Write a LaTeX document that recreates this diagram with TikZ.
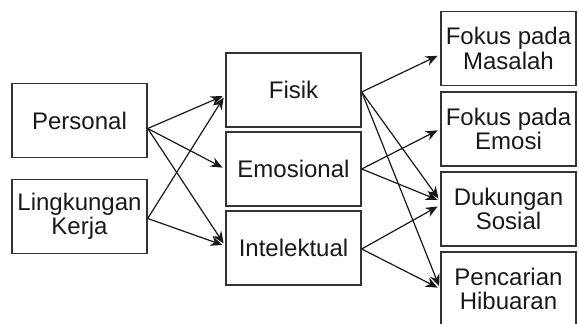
\documentclass[tikz,border=0pt]{standalone}
\usepackage{fontspec}
\setmainfont{Liberation Sans}
\usetikzlibrary{arrows.meta, calc}

\begin{document}
\begin{tikzpicture}[x=0.5pt, y=-0.5pt,
  kotak/.style={draw=black!80, line width=0.7pt, minimum width=67.5pt, minimum height=37pt,
    align=center, inner sep=0pt, text=black!90, font=\fontsize{12}{12.3}\selectfont},
  panah/.style={-{Stealth[length=6pt, width=5pt]}, line width=0.6pt, black!90, shorten >=1.5pt}]
  \useasboundingbox (0,0) rectangle (579,324);

  % Sumber stres
  \node[kotak] (personal) at (79.5, 120.5) {Personal};
  \node[kotak] (kerja) at (79.5, 216.5) {Lingkungan\\Kerja};

  % Dimensi
  \node[kotak] (fisik) at (293.5, 90) {Fisik};
  \node[kotak] (emosional) at (293.5, 169) {Emosional};
  \node[kotak] (intelektual) at (293.5, 248) {Intelektual};

  % Strategi coping
  \node[kotak] (masalah) at (508.5, 48.5) {Fokus pada\\Masalah};
  \node[kotak] (emosi) at (508.5, 129) {Fokus pada\\Emosi};
  \node[kotak] (sosial) at (508.5, 209) {Dukungan\\Sosial};
  \node[kotak] (hiburan) at (508.5, 289) {Pencarian\\Hibuaran};

  % Panah kiri
  \draw[panah] ($(personal.east)+(0,8)$) -- ($(fisik.west)+(0,5)$);
  \draw[panah] ($(personal.east)+(0,8)$) -- (emosional.west);
  \draw[panah] ($(personal.east)+(0,8)$) -- ($(intelektual.west)+(0,-2)$);
  \draw[panah] ($(kerja.east)+(0,2)$) -- ($(fisik.west)+(0,5)$);
  \draw[panah] ($(kerja.east)+(0,2)$) -- ($(intelektual.west)+(0,-2)$);

  % Panah kanan
  \draw[panah] ($(fisik.east)+(0,2)$) -- ($(masalah.west)+(0,6)$);
  \draw[panah] ($(fisik.east)+(0,2)$) -- ($(sosial.west)+(0,-8)$);
  \draw[panah] ($(fisik.east)+(0,2)$) -- (hiburan.west);
  \draw[panah] (emosional.east) -- (emosi.west);
  \draw[panah] (emosional.east) -- ($(sosial.west)+(0,-8)$);
  \draw[panah] ($(intelektual.east)+(0,1)$) -- ($(sosial.west)+(0,-4)$);
  \draw[panah] ($(intelektual.east)+(0,1)$) -- (hiburan.west);
\end{tikzpicture}
\end{document}
